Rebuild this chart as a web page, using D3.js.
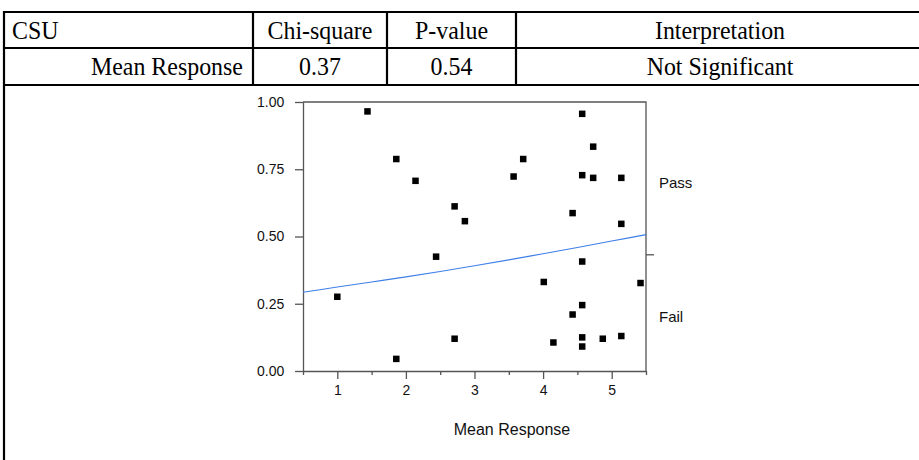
<!DOCTYPE html>
<html>
<head>
<meta charset="utf-8">
<script src="https://cdn.jsdelivr.net/npm/d3@7"></script>
<style>
  html, body { margin: 0; padding: 0; background: #fff; }
  svg { display: block; }
</style>
</head>
<body>
<svg id="page" width="919" height="460"></svg>
<script>
// Summary table above the plot
const tableHeader = ["CSU", "Chi-square", "P-value", "Interpretation"];
const tableRow = ["Mean Response", "0.37", "0.54", "Not Significant"];

// Observations: mean response (x) against jittered probability position (y)
const meanResponse = [1.44, 1.86, 2.14, 2.71, 2.86, 4.57, 4.73, 3.71, 3.57, 4.57, 4.73, 5.14, 4.43, 5.14,
                      2.44, 1.00, 1.86, 2.71, 4.57, 4.01, 5.42, 4.57, 4.43, 4.15, 4.57, 4.87, 5.14, 4.57];
const probPosition = [0.965, 0.788, 0.707, 0.612, 0.557, 0.956, 0.834, 0.788, 0.723, 0.728, 0.718, 0.718, 0.587, 0.547,
                      0.425, 0.276, 0.045, 0.120, 0.407, 0.331, 0.327, 0.245, 0.210, 0.106, 0.125, 0.120, 0.130, 0.091];

// Fitted logistic curve, P(Fail) by mean response
const fitX = [0.5, 1, 1.5, 2, 2.5, 3, 3.5, 4, 4.5, 5, 5.5];
const fitP = [0.293, 0.312, 0.331, 0.350, 0.370, 0.391, 0.413, 0.436, 0.459, 0.483, 0.507];

// Overall split between response levels
const levelSplit = 0.432;
const levelLabels = [{ name: "Pass", y: 0.70 }, { name: "Fail", y: 0.20 }];

const xTicks = [1, 2, 3, 4, 5];
const yTicks = [0, 0.25, 0.5, 0.75, 1];
const xTitle = "Mean Response";

const svg = d3.select("#page");

// ---- table ----
const tLeft = 4, tRight = 960;
const rowY = [12, 48, 85];
const colX = [tLeft, 253, 387, 516, tRight];
const tg = svg.append("g").attr("stroke", "#000").attr("stroke-width", 2.2);
rowY.forEach(y => tg.append("line").attr("x1", tLeft).attr("x2", tRight).attr("y1", y).attr("y2", y));
tg.append("line").attr("x1", tLeft).attr("x2", tLeft).attr("y1", rowY[0] - 1).attr("y2", 460);
colX.slice(1, 4).forEach(x => tg.append("line").attr("x1", x).attr("x2", x).attr("y1", rowY[0]).attr("y2", rowY[2]));

// cell text: a tall, slightly narrowed serif
const serif = "'Liberation Serif', 'Times New Roman', serif";
function cellText(text, i, row) {
  const base = rowY[row] + 27;
  let x, anchor;
  if (i === 0 && row === 0) { x = tLeft + 8; anchor = "start"; }
  else if (i === 0) { x = colX[1] - 10; anchor = "end"; }
  else if (i === 3) { x = 720; anchor = "middle"; }
  else { x = (colX[i] + colX[i + 1]) / 2; anchor = "middle"; }
  svg.append("text")
    .attr("transform", `translate(${x},${base}) scale(0.92,1)`)
    .attr("text-anchor", anchor)
    .attr("font-family", serif).attr("font-size", 26).attr("fill", "#000").text(text);
}
tableHeader.forEach((t, i) => cellText(t, i, 0));
tableRow.forEach((t, i) => cellText(t, i, 1));

// ---- plot ----
const sans = "'Liberation Sans', Arial, sans-serif";
const x = d3.scaleLinear().domain([0.5, 5.5]).range([303, 646]);
const y = d3.scaleLinear().domain([0, 1]).range([371, 102]);
const axisColor = "#555";

const plot = svg.append("g");

// frame top and right
plot.append("path")
  .attr("d", `M${x(0.5)},${y(1)}H${x(5.5)}V${y(0)}`)
  .attr("fill", "none").attr("stroke", axisColor).attr("stroke-width", 1.3);

// x axis: major ticks at integers, minor ticks at halves
const xAxis = plot.append("g").attr("transform", `translate(0,${y(0)})`)
  .call(d3.axisBottom(x).tickValues(xTicks).tickFormat(d3.format("d")).tickSize(8).tickSizeOuter(0));
const minorX = d3.range(0.5, 5.51, 1);
plot.append("g").attr("transform", `translate(0,${y(0)})`)
  .call(d3.axisBottom(x).tickValues(minorX).tickFormat("").tickSize(4).tickSizeOuter(0))
  .call(g => g.select(".domain").remove());

// y axis
const yAxis = plot.append("g").attr("transform", `translate(${x(0.5)},0)`)
  .call(d3.axisLeft(y).tickValues(yTicks).tickFormat(d3.format(".2f")).tickSize(8).tickSizeOuter(0));

[xAxis, yAxis].forEach(g => {
  g.select(".domain").attr("stroke", axisColor).attr("stroke-width", 1.3);
  g.selectAll(".tick text").attr("font-family", sans).attr("font-size", 14).attr("fill", "#111");
});
plot.selectAll(".tick line").attr("stroke", axisColor).attr("stroke-width", 1.3);
xAxis.selectAll(".tick text").attr("dy", "0.95em");
yAxis.selectAll(".tick text").attr("dx", "-0.55em");

// split tick on the right edge
plot.append("line")
  .attr("x1", x(5.5)).attr("x2", x(5.5) + 8)
  .attr("y1", y(levelSplit)).attr("y2", y(levelSplit))
  .attr("stroke", axisColor).attr("stroke-width", 1.3);

// level labels
plot.selectAll("text.level").data(levelLabels).join("text")
  .attr("class", "level")
  .attr("x", x(5.5) + 13).attr("y", d => y(d.y)).attr("dy", "0.35em")
  .attr("font-family", sans).attr("font-size", 15).attr("fill", "#111")
  .text(d => d.name);

// fitted curve
const fit = fitX.map((v, i) => [v, fitP[i]]);
plot.append("path")
  .datum(fit)
  .attr("fill", "none").attr("stroke", "#3f7fe8").attr("stroke-width", 1.1)
  .attr("d", d3.line().x(d => x(d[0])).y(d => y(d[1])).curve(d3.curveMonotoneX));

// observation markers
const sq = 6.5;
plot.selectAll("rect.obs").data(meanResponse.map((v, i) => [v, probPosition[i]])).join("rect")
  .attr("class", "obs")
  .attr("x", d => x(d[0]) - sq / 2).attr("y", d => y(d[1]) - sq / 2)
  .attr("width", sq).attr("height", sq).attr("fill", "#000");

// axis title
svg.append("text").attr("x", 512).attr("y", 435).attr("text-anchor", "middle")
  .attr("font-family", sans).attr("font-size", 16).attr("fill", "#111").text(xTitle);
</script>
</body>
</html>
